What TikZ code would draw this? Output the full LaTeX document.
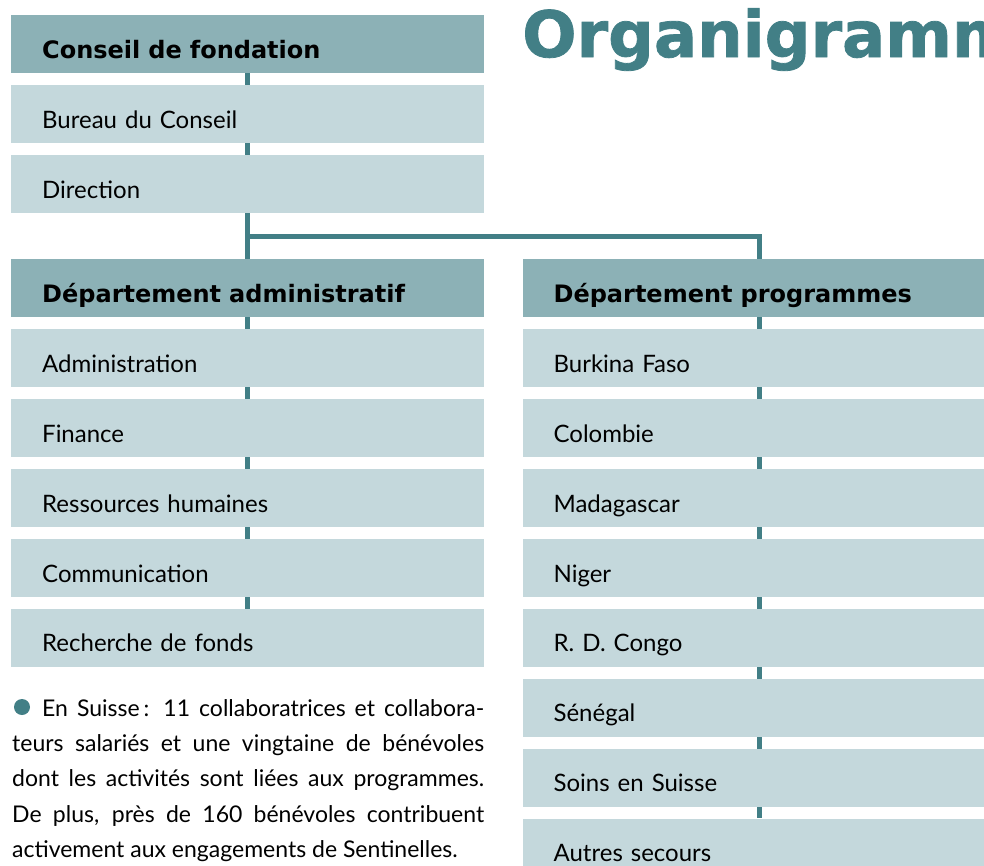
\documentclass[tikz,border=0pt]{standalone}
\usepackage{fontspec}
\setmainfont{Lato}
\newfontfamily\headfont{DejaVu Sans}
\newfontfamily\titlefont{DejaVu Sans}[BoldFeatures={FakeBold=1.2}]
\usetikzlibrary{positioning,calc,backgrounds}
\definecolor{tealdark}{HTML}{427F86}
\definecolor{headfill}{HTML}{8CB1B6}
\definecolor{itemfill}{HTML}{C4D8DC}
\tikzset{
  box/.style={rectangle, minimum width=473pt, minimum height=58pt, inner xsep=31pt, inner ysep=0pt,
    text width=411pt, align=left, text height=32pt, text depth=4pt, font=\fontsize{24}{28}\selectfont},
  headbox/.style={box, fill=headfill, font=\headfont\fontsize{24}{28}\selectfont\bfseries},
  itembox/.style={box, fill=itemfill},
  link/.style={draw=tealdark, line width=5pt},
}
\begin{document}
\begin{tikzpicture}[x=1pt, y=1pt, node distance=11.5pt]
	\useasboundingbox (0,0) rectangle (984,-865);
	\clip (0,0) rectangle (984,-865);
	% Title
	\node[anchor=base west, inner sep=0pt, text=tealdark, font=\titlefont\fontsize{64}{64}\selectfont\bfseries] (title) at (522,-57) {Organigramme};
	% Top
	\node[headbox, anchor=north west] (conseil) at (11,-15) {Conseil de fondation};
	\node[itembox, below=of conseil] (bureau) {Bureau du Conseil};
	\node[itembox, below=of bureau] (direction) {Direction};
	% Left column
	\node[headbox, below=46pt of direction] (admin) {Département administratif};
	\node[itembox, below=of admin] (administration) {Administration};
	\node[itembox, below=of administration] (finance) {Finance};
	\node[itembox, below=of finance] (ressources) {Ressources humaines};
	\node[itembox, below=of ressources] (communication) {Communication};
	\node[itembox, below=of communication] (recherche) {Recherche de fonds};
	% Right column
	\node[headbox, right=38pt of admin] (programmes) {Département programmes};
	\node[itembox, below=of programmes] (burkina) {Burkina Faso};
	\node[itembox, below=of burkina] (colombie) {Colombie};
	\node[itembox, below=of colombie] (madagascar) {Madagascar};
	\node[itembox, below=of madagascar] (niger) {Niger};
	\node[itembox, below=of niger] (congo) {R. D. Congo};
	\node[itembox, below=of congo] (senegal) {Sénégal};
	\node[itembox, below=of senegal] (soins) {Soins en Suisse};
	\node[itembox, below=of soins] (autres) {Autres secours};
	% Links
	\coordinate (fork) at ($(direction.south)!0.5!(admin.north)$);
	\begin{scope}[on background layer]
		\draw[link] (conseil) -- (recherche);
		\draw[link] (fork) -| (autres);
	\end{scope}
	% Note
	\node[circle, fill=tealdark, minimum size=16pt, inner sep=0pt] (bullet) at (22,-707) {};
	\node[anchor=north west, inner sep=0pt, text width=472pt, align=justify, font=\fontsize{23}{35.3}\selectfont] (note) at (12,-699)
		{\hspace*{30pt}En Suisse\,: 11 collaboratrices et collabora-\linebreak
		teurs salariés et une vingtaine de bénévoles\linebreak
		dont les activités sont liées aux programmes.\linebreak
		De plus, près de 160 bénévoles contribuent\linebreak
		activement aux engagements de Sentinelles.};
\end{tikzpicture}
\end{document}
